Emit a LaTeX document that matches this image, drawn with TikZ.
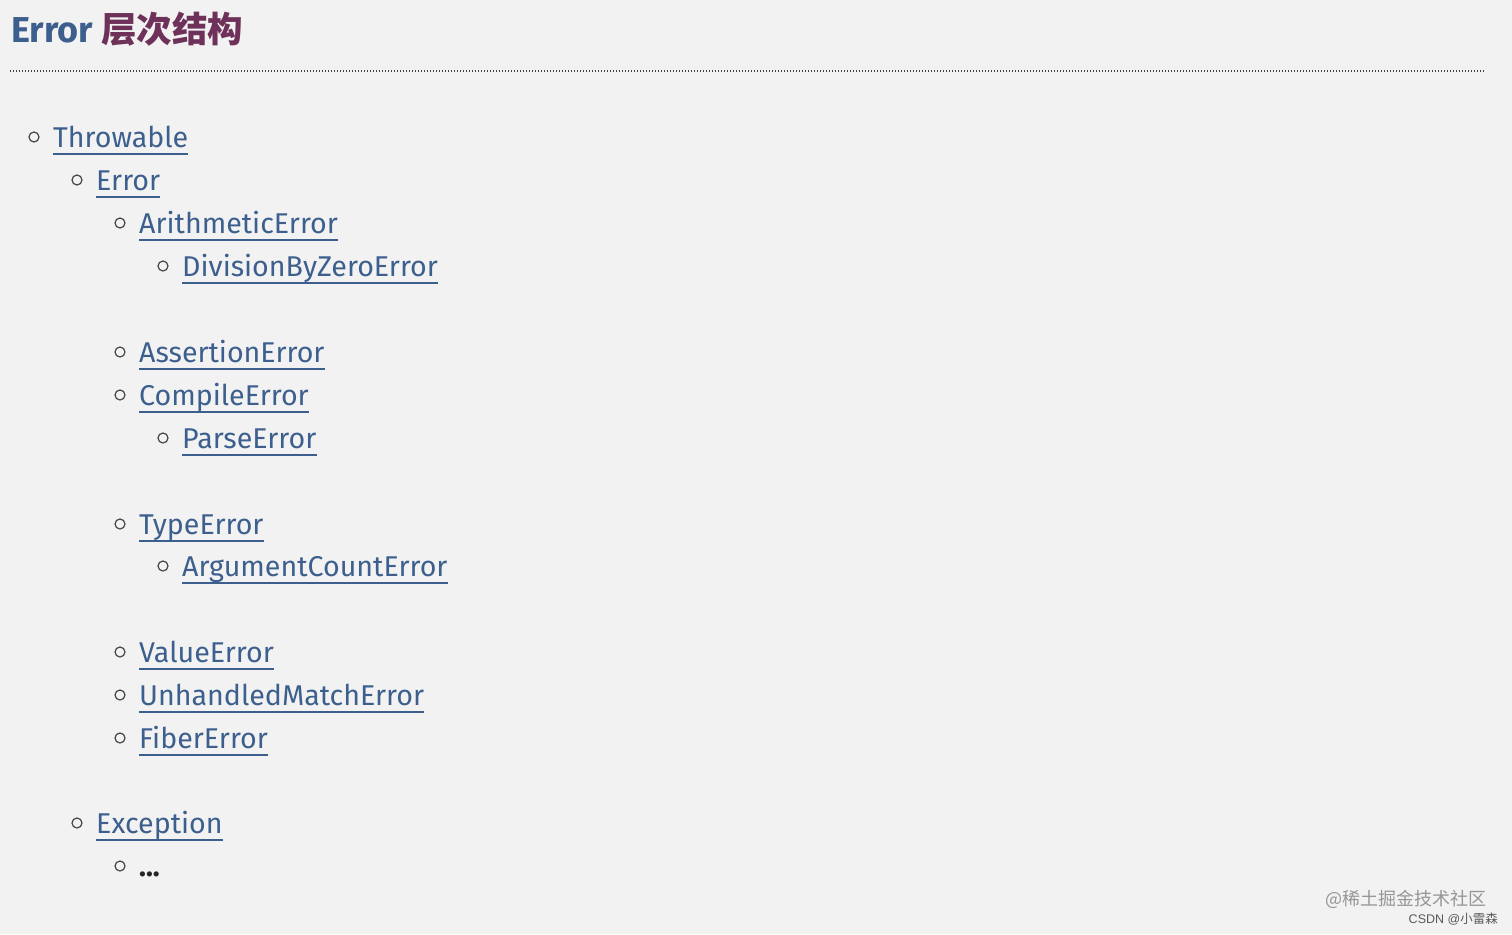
\documentclass[tikz,border=0pt]{standalone}
\usepackage{fontspec}
\setmainfont{Fira Sans}
\newfontfamily\cjk{Noto Sans CJK SC}
\newfontfamily\wmfont{Liberation Sans}
\definecolor{bg}{RGB}{242,242,242}
\definecolor{linkblue}{RGB}{60,95,142}
\definecolor{titlepurple}{RGB}{110,50,90}
\definecolor{bulletgray}{RGB}{70,70,70}
\definecolor{wmgray}{RGB}{150,150,150}
\definecolor{wmdark}{RGB}{90,90,90}
\tikzset{
  linktext/.style={inner sep=0pt, anchor=base west, text=linkblue, font=\fontsize{28.6}{34}\selectfont},
  bulletmark/.style={circle, draw=bulletgray, line width=1.2pt, minimum size=10pt, inner sep=0pt},
  underl/.style={draw=linkblue, line width=2pt},
}
\newcommand\listitem[4]{% name, level, center y, text
  \pgfmathsetmacro\bx{34+43*(#2-1)}
  \pgfmathsetmacro\tx{53+43*(#2-1)}
  \node[bulletmark] (b#1) at (\bx,#3) {};
  \node[linktext] (#1) at (\tx,#3+10) {#4};
  \draw[underl] ([yshift=-7pt]#1.base west) -- ([yshift=-7pt]#1.base east);
}
\begin{document}
\begin{tikzpicture}[x=1pt,y=-1pt]
\fill[bg] (0,0) rectangle (1512,934);
\useasboundingbox (0,0) rectangle (1512,934);
% title
\node[inner sep=0pt, anchor=base west, font=\fontsize{36}{40}\selectfont\bfseries, text=linkblue] (t1) at (11,43) {Error};
\node[inner sep=0pt, anchor=base west, font=\fontsize{35.5}{40}\selectfont\cjk\bfseries, text=titlepurple] (t2) at (101,43) {层次结构};
\coordinate (dl) at (10,71);
\coordinate (dr) at (1485,71);
\draw[black!75, line width=1.2pt, dash pattern=on 1.2pt off 1.8pt] (dl) -- (dr);
% list
\listitem{throwable}{1}{137}{Throwable}
\listitem{error}{2}{180}{Error}
\listitem{arith}{3}{223}{ArithmeticError}
\listitem{divzero}{4}{266}{DivisionByZeroError}
\listitem{assert}{3}{352}{AssertionError}
\listitem{compile}{3}{395}{CompileError}
\listitem{parse}{4}{438}{ParseError}
\listitem{type}{3}{524}{TypeError}
\listitem{argcount}{4}{566}{ArgumentCountError}
\listitem{value}{3}{652}{ValueError}
\listitem{unhandled}{3}{695}{UnhandledMatchError}
\listitem{fiber}{3}{738}{FiberError}
\listitem{exception}{2}{823}{Exception}
\node[bulletmark] (bdots) at (120,866) {};
\node[inner sep=0pt, anchor=base west, text=black!85, font=\fontsize{28.6}{34}\selectfont\bfseries] (dots) at (139,876) {...};
% watermark
\node[inner sep=0pt, anchor=base east, text=wmgray, font=\fontsize{18}{20}\selectfont\cjk] (wm1) at (1487,905) {@稀土掘金技术社区};
\node[inner sep=0pt, anchor=base east, text=wmdark, font=\fontsize{12.5}{15}\selectfont] (wm2) at (1498,923) {\wmfont CSDN @\cjk 小雷森};
\end{tikzpicture}
\end{document}
